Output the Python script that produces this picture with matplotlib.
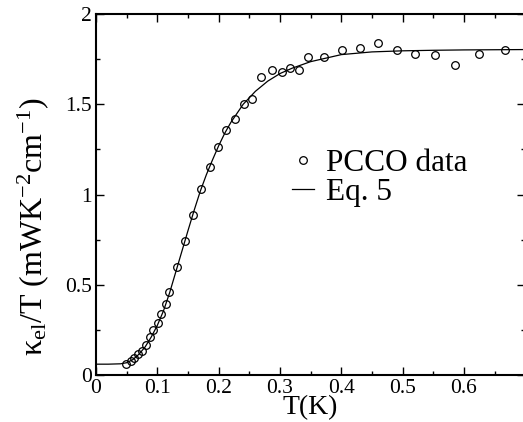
import numpy as np
import matplotlib
matplotlib.use("Agg")
import matplotlib.pyplot as plt
from matplotlib.ticker import MultipleLocator

plt.rcParams['font.family'] = ['Liberation Serif', 'DejaVu Serif']
plt.rcParams['mathtext.fontset'] = 'custom'
plt.rcParams['mathtext.rm'] = 'Liberation Serif'
plt.rcParams['mathtext.it'] = 'Liberation Serif:italic'

# PCCO data points
T_data = [0.049, 0.057, 0.0625, 0.068, 0.0745, 0.081, 0.088, 0.0935, 0.101, 0.1065,
          0.1136, 0.1196, 0.1326, 0.1457, 0.1576, 0.1712, 0.1853, 0.1984, 0.2125, 0.226,
          0.241, 0.255, 0.2696, 0.287, 0.304, 0.317, 0.331, 0.345, 0.372, 0.401,
          0.430, 0.460, 0.490, 0.520, 0.552, 0.585, 0.625, 0.667]
k_data = [0.059, 0.078, 0.096, 0.114, 0.133, 0.164, 0.209, 0.249, 0.286, 0.336,
          0.391, 0.460, 0.596, 0.741, 0.886, 1.030, 1.150, 1.261, 1.359, 1.420,
          1.500, 1.529, 1.649, 1.688, 1.679, 1.699, 1.690, 1.760, 1.760, 1.799,
          1.810, 1.839, 1.799, 1.780, 1.771, 1.719, 1.780, 1.799]

# Eq. 5 curve
T_fit = [0.0, 0.02, 0.04, 0.05, 0.06, 0.07, 0.08, 0.09, 0.10, 0.11, 0.12, 0.13,
         0.14, 0.15, 0.16, 0.17, 0.18, 0.19, 0.20, 0.21, 0.22, 0.24, 0.26, 0.28,
         0.30, 0.32, 0.35, 0.40, 0.45, 0.50, 0.55, 0.60, 0.65, 0.70]
k_fit = [0.060, 0.060, 0.062, 0.068, 0.085, 0.115, 0.155, 0.210, 0.275, 0.355,
         0.455, 0.570, 0.685, 0.800, 0.912, 1.018, 1.110, 1.192, 1.270, 1.340,
         1.400, 1.500, 1.572, 1.628, 1.670, 1.700, 1.736, 1.775, 1.790, 1.796,
         1.799, 1.801, 1.802, 1.803]

fig = plt.figure(figsize=(5.23, 4.22), dpi=100)
ax = fig.add_axes([96 / 523, 1 - 375 / 422, 429.3 / 523, 361 / 422])

ax.plot(T_fit, k_fit, color='black', lw=0.9, label='Eq. 5', zorder=2)
ax.plot(T_data, k_data, 'o', mfc='none', mec='black', ms=5.5, mew=0.9,
        label='PCCO data', zorder=3)

ax.set_xlim(0, 0.7)
ax.set_ylim(0, 2)
ax.xaxis.set_minor_locator(MultipleLocator(0.05))
ax.yaxis.set_minor_locator(MultipleLocator(0.25))
ax.set_xticks([0, 0.1, 0.2, 0.3, 0.4, 0.5, 0.6])
ax.set_xticklabels(['0', '0.1', '0.2', '0.3', '0.4', '0.5', '0.6'])
ax.set_yticks([0, 0.5, 1, 1.5, 2])
ax.set_yticklabels(['0', '0.5', '1', '1.5', '2'])
ax.tick_params(which='both', direction='in', top=True, right=True, labelsize=15.5,
               width=1.0)
ax.tick_params(which='major', length=6, pad=3)
ax.tick_params(which='minor', length=3)
for s in ax.spines.values():
    s.set_linewidth(1.5)

ax.set_xlabel('T(K)', fontsize=20, labelpad=-2)
ax.set_ylabel('κ$_{\\rm el}$/T (mWK$^{-2}$cm$^{-1}$)', fontsize=23)
ax.yaxis.set_label_coords(-0.105, 0.41)

h, l = ax.get_legend_handles_labels()
ax.legend(h[::-1], l[::-1], loc='upper left', bbox_to_anchor=(0.4566, 0.625),
          frameon=False, fontsize=22.5, handlelength=0.7, handletextpad=0.4,
          labelspacing=0.0, borderpad=0, borderaxespad=0)

fig.savefig('out.png', dpi=100)
